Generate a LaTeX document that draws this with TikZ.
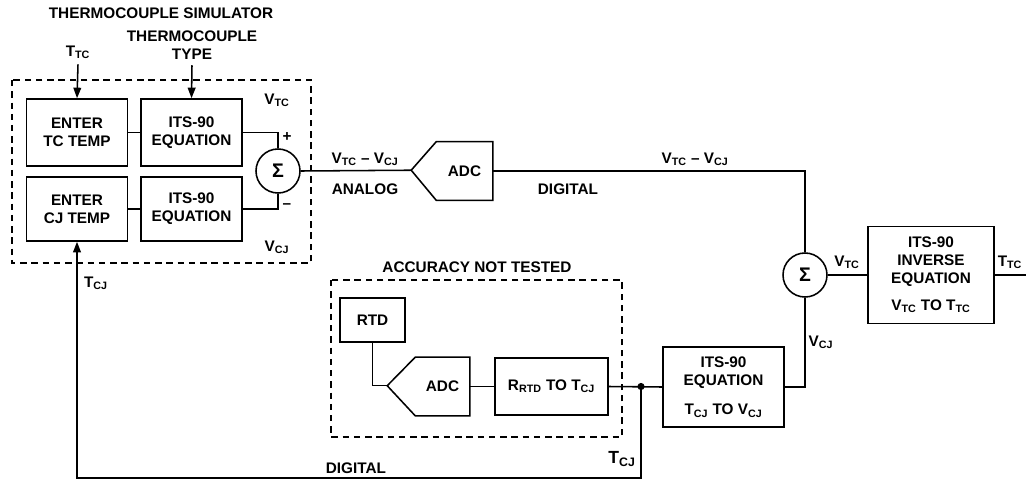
\documentclass[tikz,border=0pt,11pt]{standalone}
\usepackage{fontspec}
\setmainfont{Liberation Sans}
\usetikzlibrary{arrows.meta}

\begin{document}
\begin{tikzpicture}[x=0.025cm, y=-0.025cm, line width=1.1pt,
	every node/.style={font=\bfseries\fontsize{10.9}{12.8}\selectfont},
	blk/.style={draw, align=center, inner sep=0pt},
	sumnode/.style={draw, circle, minimum size=1.1cm, inner sep=0pt, font=\bfseries\fontsize{14}{14}\selectfont},
	grp/.style={dash pattern=on 4.5pt off 3.5pt},
	>={Triangle[length=7.5pt, width=5.5pt]}]
	\useasboundingbox (0,0) rectangle (1026,480);
	
	%thermocouple simulator
	\node (simtitle) at (161,13){THERMOCOUPLE SIMULATOR};
	\draw[grp] (12,80) rectangle (311,263);
	\node (enterTC) at (77,132.5) [blk, minimum width=2.525cm, minimum height=1.675cm]{ENTER\\TC TEMP};
	\node (itsTC) at (191.5,132.5) [blk, minimum width=2.525cm, minimum height=1.675cm]{ITS-90\\EQUATION};
	\node (enterCJ) at (77,209) [blk, minimum width=2.525cm, minimum height=1.6cm]{ENTER\\CJ TEMP};
	\node (itsCJ) at (191.5,209) [blk, minimum width=2.525cm, minimum height=1.6cm]{ITS-90\\EQUATION};
	\node (sum1) at (278,171) [sumnode]{Σ};
	\node (ttc) at (78,52){T\textsubscript{TC}};
	\node (tctype) at (192,45) [align=center]{THERMOCOUPLE\\TYPE};
	\node (vtc1) at (277,100){V\textsubscript{TC}};
	\node (vcj1) at (277,247){V\textsubscript{CJ}};
	\node (plus) at (287,137){+};
	\node (minus) at (287,206){--};
	
	\draw[->] (ttc.south) -- (enterTC.north);
	\draw[->] (tctype.south) -- (itsTC.north);
	\draw (enterTC) -- (itsTC);
	\draw (enterCJ) -- (itsCJ);
	\draw (itsTC.east) -| (sum1.north);
	\draw (itsCJ.east) -| (sum1.south);
	
	%analog to digital
	\node (adc1) at (464.5,171) [minimum width=1.375cm, minimum height=1.425cm, inner sep=0pt]{ADC};
	\draw (adc1.north east) -- (adc1.north west) -- ++(-25,28.5) coordinate (adc1in) -- (adc1.south west) -- (adc1.south east) -- cycle;
	\draw (sum1.east) -- (adc1in);
	\node (diffA) at (365,159){V\textsubscript{TC} -- V\textsubscript{CJ}};
	\node (analog) at (365,189){ANALOG};
	\node (diffD) at (695,159){V\textsubscript{TC} -- V\textsubscript{CJ}};
	\node (digital1) at (568,189){DIGITAL};
	
	%inverse equation
	\node (sum2) at (805,275) [sumnode]{Σ};
	\node (inv) at (931,275) [blk, minimum width=3.15cm, minimum height=2.425cm]{ITS-90\\INVERSE\\EQUATION\\[6pt]V\textsubscript{TC} TO T\textsubscript{TC}};
	\coordinate (tout) at (1030,275);
	\draw (adc1.east) -| (sum2.north);
	\draw (sum2.east) -- (inv.west);
	\draw (inv.east) -- (tout);
	\node (vtc2) at (847,262){V\textsubscript{TC}};
	\node (ttc2) at (1010,262){T\textsubscript{TC}};
	\node (vcj2) at (821,342){V\textsubscript{CJ}};
	
	%cold junction
	\node (acctitle) at (477,267){ACCURACY NOT TESTED};
	\draw[grp] (331,280) rectangle (622,437);
	\node (rtd) at (372.5,320) [blk, minimum width=1.625cm, minimum height=1.1cm]{RTD};
	\node (adc2) at (442.5,386.5) [minimum width=1.325cm, minimum height=1.425cm, inner sep=0pt]{ADC};
	\draw (adc2.north east) -- (adc2.north west) -- ++(-28,28.5) coordinate (adc2in) -- (adc2.south west) -- (adc2.south east) -- cycle;
	\node (rtdcj) at (551.5,386.5) [blk, minimum width=2.825cm, minimum height=1.425cm]{R\textsubscript{RTD} TO T\textsubscript{CJ}};
	\node (itscj2) at (723.5,387) [blk, minimum width=3.025cm, minimum height=2cm]{ITS-90\\EQUATION\\[8pt]T\textsubscript{CJ} TO V\textsubscript{CJ}};
	\node (tap) at (641,386.5) [circle, fill, inner sep=1.8pt]{};
	\coordinate (fbk) at (641,478);
	\draw (rtd.south) |- (adc2in);
	\draw (adc2.east) -- (rtdcj.west);
	\draw (rtdcj.east) -- (itscj2.west);
	\draw (itscj2.east) -| (sum2.south);
	\draw[->] (tap.center) -- (fbk) -| (enterCJ.south);
	\node (tcj1) at (96,283){T\textsubscript{CJ}};
	\node (digital2) at (356,468){DIGITAL};
	\node (tcj2) at (622,459) [font=\bfseries\fontsize{12.5}{13}\selectfont]{T\textsubscript{CJ}};
\end{tikzpicture}
\end{document}
